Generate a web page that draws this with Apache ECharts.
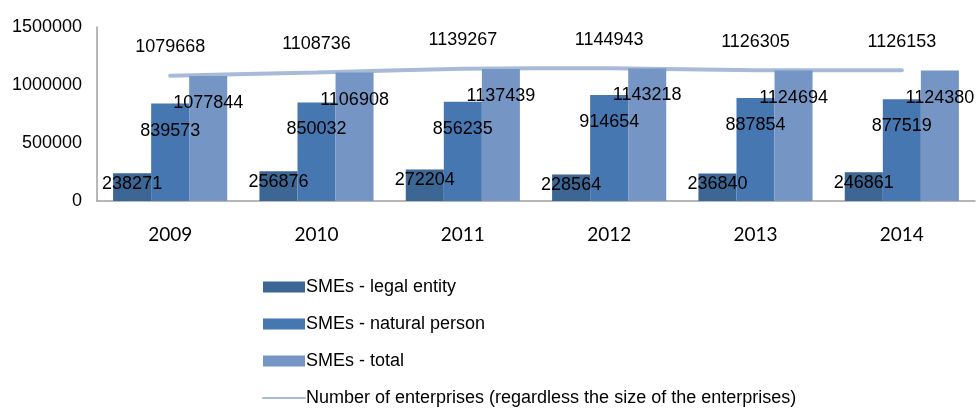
<!doctype html>
<html>
  <head>
    <meta charset="utf-8">
    <title>SMEs</title>
    <script src="https://cdn.jsdelivr.net/npm/echarts@6/dist/echarts.min.js"></script>
  </head>
  <body style="margin:0;background:#fff;">
    <div id="main" style="width:976px;height:416px;"></div>
    <script type="text/javascript">
      // data
      var years = ['2009', '2010', '2011', '2012', '2013', '2014'];
      var legalEntity = [238271, 256876, 272204, 228564, 236840, 246861];
      var naturalPerson = [839573, 850032, 856235, 914654, 887854, 877519];
      var smeTotal = [1077844, 1106908, 1137439, 1143218, 1124694, 1124380];
      var allEnterprises = [1079668, 1108736, 1139267, 1144943, 1126305, 1126153];
      var yTicks = [0, 500000, 1000000, 1500000];

      var font = 'Liberation Sans, Arial, sans-serif';
      var lineColor = '#a7bbd8';
      var myChart = echarts.init(document.getElementById('main'));

      function barLabel(dy) {
        return {
          show: true,
          position: 'insideTop',
          offset: [0, dy],
          color: '#000',
          fontFamily: font,
          fontSize: 18
        };
      }

      var option = {
        animation: false,
        grid: { left: 97, right: 1, top: 27, bottom: 215 },
        legend: {
          orient: 'vertical',
          left: 262,
          top: 278,
          padding: 0,
          itemGap: 19,
          itemWidth: 42,
          itemHeight: 11,
          textStyle: { fontFamily: font, fontSize: 18, color: '#000', padding: [0, 0, 0, -4] },
          data: [
            { name: 'SMEs - legal entity', icon: 'rect' },
            { name: 'SMEs - natural person', icon: 'rect' },
            { name: 'SMEs - total', icon: 'rect' },
            { name: 'Number of enterprises (regardless the size of the enterprises)', itemStyle: { opacity: 0 } }
          ]
        },
        xAxis: {
          type: 'category',
          data: years,
          axisLine: { lineStyle: { color: '#a0a0a0', width: 1.5 } },
          axisTick: { show: false },
          axisLabel: { color: '#000', fontFamily: 'Lato, sans-serif', fontSize: 19, margin: 24 }
        },
        yAxis: {
          type: 'value',
          min: yTicks[0],
          max: yTicks[yTicks.length - 1],
          interval: yTicks[1] - yTicks[0],
          splitLine: { show: false },
          axisLine: { show: true, lineStyle: { color: '#a0a0a0', width: 1.5 } },
          axisTick: { show: false },
          axisLabel: {
            color: '#000', fontFamily: font, fontSize: 18, margin: 15,
            formatter: function (v) { return String(v); }
          }
        },
        series: [
          {
            name: 'Number of enterprises (regardless the size of the enterprises)',
            type: 'line',
            data: allEnterprises,
            smooth: 0.2,
            symbol: 'circle',
            symbolSize: 1,
            showSymbol: true,
            z: 1,
            lineStyle: { color: lineColor, width: 4, cap: 'round' },
            itemStyle: { color: 'rgba(0,0,0,0)' },
            label: {
              show: true,
              position: 'top',
              distance: 19,
              color: '#000',
              fontFamily: font,
              fontSize: 18
            }
          },
          {
            name: 'SMEs - legal entity',
            type: 'bar',
            data: legalEntity,
            barGap: '0%',
            barCategoryGap: '22%',
            z: 2,
            itemStyle: { color: '#3c6694' },
            label: barLabel(-3)
          },
          {
            name: 'SMEs - natural person',
            type: 'bar',
            data: naturalPerson,
            barGap: '0%',
            barCategoryGap: '22%',
            z: 2,
            itemStyle: { color: '#4677b0' },
            label: barLabel(13)
          },
          {
            name: 'SMEs - total',
            type: 'bar',
            data: smeTotal,
            barGap: '0%',
            barCategoryGap: '22%',
            z: 2,
            itemStyle: { color: '#7596c4' },
            label: barLabel(13)
          }
        ]
      };
      myChart.setOption(option);
    </script>
  </body>
</html>
